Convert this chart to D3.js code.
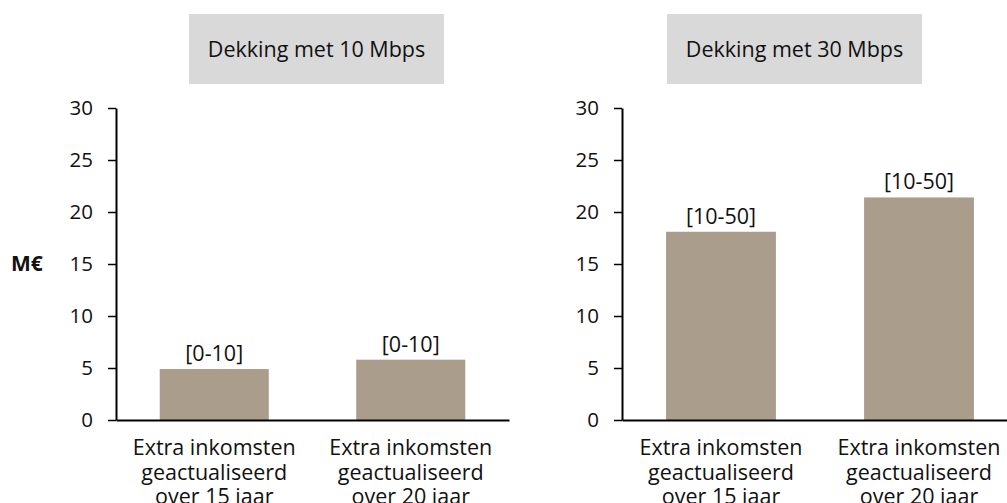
<!DOCTYPE html>
<html>
<head>
<meta charset="utf-8">
<script src="https://cdn.jsdelivr.net/npm/d3@7"></script>
<style>
  html, body { margin: 0; padding: 0; background: #ffffff; }
  svg { display: block; }
  text { font-family: "Open Sans", Lato, sans-serif; fill: #111111; }
</style>
</head>
<body>
<svg id="chart" width="1007" height="503"></svg>
<script>
// Category labels (one line per array entry)
const categories = [
  ["Extra inkomsten", "geactualiseerd", "over 15 jaar"],
  ["Extra inkomsten", "geactualiseerd", "over 20 jaar"]
];
// Panel titles
const panelTitles = ["Dekking met 10 Mbps", "Dekking met 30 Mbps"];
// Values in M€ per panel
const values10 = [4.9, 5.8];
const values30 = [18.1, 21.4];
// Range labels shown above bars
const labels10 = ["[0-10]", "[0-10]"];
const labels30 = ["[10-50]", "[10-50]"];
// Y-axis ticks
const yTicks = [0, 5, 10, 15, 20, 25, 30];
const yUnit = "M€";

const panels = [
  { title: panelTitles[0], values: values10, labels: labels10, x0: 116, x1: 509, box: [189, 14, 255, 70], unit: true },
  { title: panelTitles[1], values: values30, labels: labels30, x0: 622, x1: 1018, box: [667, 14, 255, 70], unit: false }
];

const svg = d3.select("#chart");
const y = d3.scaleLinear().domain([0, 30]).range([420, 108]);
const barColor = "#aa9d8c";
const fontMain = "21.5px";
const fontTick = "20.5px";

panels.forEach(p => {
  const g = svg.append("g");

  // Title box
  g.append("rect")
    .attr("x", p.box[0]).attr("y", p.box[1])
    .attr("width", p.box[2]).attr("height", p.box[3])
    .attr("fill", "#d9d9d9");
  g.append("text")
    .attr("class", "title")
    .attr("x", p.box[0] + p.box[2] / 2)
    .attr("y", p.box[1] + 43)
    .attr("text-anchor", "middle")
    .style("font-size", fontMain)
    .text(p.title);

  const x = d3.scaleBand()
    .domain(d3.range(categories.length))
    .range([p.x0, p.x1])
    .paddingInner(0.445)
    .paddingOuter(0.2225);

  // Bars
  g.selectAll("rect.bar")
    .data(p.values)
    .join("rect")
    .attr("class", "bar")
    .attr("x", (d, i) => x(i))
    .attr("width", x.bandwidth())
    .attr("y", d => y(d))
    .attr("height", d => y(0) - y(d))
    .attr("fill", barColor);

  // Range labels above bars
  g.selectAll("text.val")
    .data(p.values)
    .join("text")
    .attr("class", "val")
    .attr("x", (d, i) => x(i) + x.bandwidth() / 2)
    .attr("y", d => y(d) - 8)
    .attr("text-anchor", "middle")
    .style("font-size", fontMain)
    .text((d, i) => p.labels[i]);

  // Y axis
  const yAxis = d3.axisLeft(y)
    .tickValues(yTicks)
    .tickSize(8)
    .tickPadding(15)
    .tickSizeOuter(0);
  const ya = g.append("g")
    .attr("transform", `translate(${p.x0},0)`)
    .call(yAxis);
  ya.select(".domain").attr("stroke", "#000").attr("stroke-width", 2);
  ya.selectAll(".tick line").attr("stroke", "#000").attr("stroke-width", 1.5);
  ya.selectAll(".tick text")
    .style("font-family", "'Open Sans', Lato, sans-serif")
    .style("font-size", fontTick)
    .attr("fill", "#111");

  // X axis (baseline + multi-line category labels)
  const xAxis = d3.axisBottom(x).tickSize(0).tickSizeOuter(0).tickFormat("");
  const xa = g.append("g")
    .attr("transform", `translate(0,${y(0)})`)
    .call(xAxis);
  xa.select(".domain").attr("stroke", "#000").attr("stroke-width", 2);

  g.selectAll("text.cat")
    .data(categories)
    .join("text")
    .attr("class", "cat")
    .attr("x", (d, i) => x(i) + x.bandwidth() / 2)
    .attr("y", 455)
    .attr("text-anchor", "middle")
    .style("font-size", fontMain)
    .selectAll("tspan")
    .data(d => d)
    .join("tspan")
    .attr("x", function () { return this.parentNode.getAttribute("x"); })
    .attr("dy", (d, i) => i === 0 ? 0 : 24.5)
    .text(d => d);

  if (p.unit) {
    g.append("text")
      .attr("x", 11)
      .attr("y", y(15) + 7)
      .style("font-size", "21px")
      .style("font-weight", "bold")
      .text(yUnit);
  }
});
</script>
</body>
</html>
